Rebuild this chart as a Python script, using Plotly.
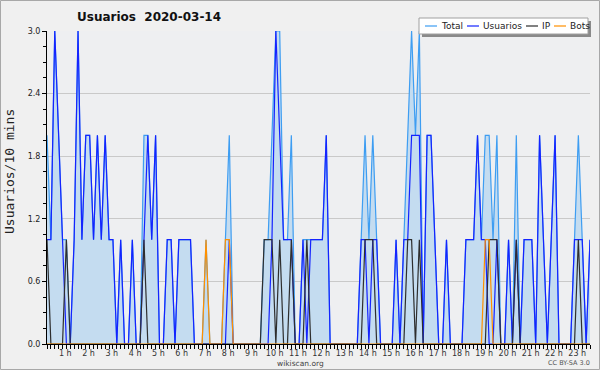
import plotly.graph_objects as go

# ---- data: users per 10-minute slot, 2020-03-14 (slot 0 = 00:00) ----
usuarios = [1, 1, 3, 2, 1, 0, 0, 1, 3, 1,
            2, 2, 1, 2, 1, 2, 1, 1, 0, 1,
            0, 0, 1, 0, 0, 1, 2, 1, 2, 0,
            0, 1, 1, 0, 1, 1, 1, 1, 0, 0,
            0, 0, 0, 0, 0, 0, 0, 1, 0, 0,
            0, 0, 0, 0, 0, 0, 0, 0, 1, 3,
            2, 1, 1, 1, 0, 0, 1, 0, 1, 1,
            1, 1, 2, 0, 0, 0, 0, 0, 0, 0,
            0, 1, 1, 0, 1, 1, 0, 0, 0, 0,
            1, 0, 1, 1, 2, 2, 2, 0, 2, 2,
            1, 0, 0, 1, 0, 0, 0, 0, 1, 1,
            1, 2, 1, 1, 0, 0, 1, 0, 0, 1,
            0, 1, 0, 1, 1, 1, 0, 2, 1, 0,
            1, 2, 0, 0, 0, 0, 1, 1, 1, 0, 1]

ip = [1, 0, 0, 0, 0, 1, 0, 0, 0, 0,
      0, 0, 0, 0, 0, 0, 0, 0, 0, 0,
      0, 0, 0, 0, 0, 1, 0, 0, 0, 0,
      0, 0, 0, 0, 0, 0, 0, 0, 0, 0,
      0, 0, 0, 0, 0, 0, 0, 0, 0, 0,
      0, 0, 0, 0, 0, 0, 1, 1, 1, 0,
      1, 0, 0, 1, 0, 0, 0, 1, 0, 0,
      0, 0, 0, 0, 0, 0, 0, 0, 0, 0,
      0, 0, 1, 1, 1, 0, 0, 0, 0, 0,
      0, 0, 0, 1, 1, 0, 1, 0, 0, 0,
      0, 0, 0, 0, 0, 0, 0, 0, 0, 0,
      0, 0, 0, 0, 1, 1, 1, 0, 0, 0,
      0, 1, 0, 0, 0, 0, 0, 0, 0, 0,
      0, 0, 0, 0, 0, 0, 0, 1, 0, 0, 0]

bots = [0, 0, 0, 0, 0, 0, 0, 0, 0, 0,
        0, 0, 0, 0, 0, 0, 0, 0, 0, 0,
        0, 0, 0, 0, 0, 0, 0, 0, 0, 0,
        0, 0, 0, 0, 0, 0, 0, 0, 0, 0,
        0, 1, 0, 0, 0, 0, 1, 1, 0, 0,
        0, 0, 0, 0, 0, 0, 0, 0, 0, 0,
        0, 0, 0, 0, 0, 0, 0, 0, 0, 0,
        0, 0, 0, 0, 0, 0, 0, 0, 0, 0,
        0, 0, 0, 0, 0, 0, 0, 0, 0, 0,
        0, 0, 0, 0, 0, 0, 0, 0, 0, 0,
        0, 0, 0, 0, 0, 0, 0, 0, 0, 0,
        0, 0, 0, 1, 1, 0, 0, 0, 0, 0,
        0, 0, 0, 0, 0, 0, 0, 0, 0, 0,
        0, 0, 0, 0, 0, 0, 0, 0, 0, 0, 0]

total = [2, 1, 3, 2, 1, 1, 0, 1, 3, 1,
         2, 2, 1, 2, 1, 2, 1, 1, 0, 1,
         0, 0, 1, 0, 0, 2, 2, 1, 2, 0,
         0, 1, 1, 0, 1, 1, 1, 1, 0, 0,
         0, 1, 0, 0, 0, 0, 1, 2, 0, 0,
         0, 0, 0, 0, 0, 0, 1, 1, 2, 3,
         3, 1, 1, 2, 0, 0, 1, 1, 1, 1,
         1, 1, 2, 0, 0, 0, 0, 0, 0, 0,
         0, 1, 2, 1, 2, 1, 0, 0, 0, 0,
         1, 0, 1, 2, 3, 2, 3, 0, 2, 2,
         1, 0, 0, 1, 0, 0, 0, 0, 1, 1,
         1, 2, 1, 2, 2, 1, 2, 0, 0, 1,
         0, 2, 0, 1, 1, 1, 0, 2, 1, 0,
         1, 2, 0, 0, 0, 0, 1, 2, 1, 0, 1]

hour_labels = ["1 h", "2 h", "3 h", "4 h", "5 h", "6 h", "7 h", "8 h", "9 h", "10 h",
               "11 h", "12 h", "13 h", "14 h", "15 h", "16 h", "17 h", "18 h", "19 h",
               "20 h", "21 h", "22 h", "23 h"]
y_ticks = [0.0, 0.6, 1.2, 1.8, 2.4, 3.0]

SLOTS_PER_HOUR = 6
slots = list(range(len(total)))
hour_ticks = [(k + 1) * SLOTS_PER_HOUR for k in range(len(hour_labels))]

# ---- figure geometry ----
W, H = 600, 370
L, R, T, B = 47, 10, 31, 26
PW, PH = W - L - R, H - T - B


def px(x):
    return (x - L) / PW


def py(y):
    return (H - B - y) / PH


C_TOTAL = "#3d9df2"
C_FILL = "#c4dcf0"
C_USR = "#1423ff"
C_IP = "#2e2e2e"
C_BOTS = "#ff9000"

fig = go.Figure()
fig.add_trace(go.Scatter(x=slots, y=total, mode="lines", name="Total",
                         line=dict(color=C_TOTAL, width=1.2),
                         fill="tozeroy", fillcolor=C_FILL, showlegend=False))
fig.add_trace(go.Scatter(x=slots, y=usuarios, mode="lines", name="Usuarios",
                         line=dict(color=C_USR, width=1.2), showlegend=False))
fig.add_trace(go.Scatter(x=slots, y=ip, mode="lines", name="IP",
                         line=dict(color=C_IP, width=1.2), showlegend=False))
fig.add_trace(go.Scatter(x=slots, y=bots, mode="lines", name="Bots",
                         line=dict(color=C_BOTS, width=1.2), showlegend=False))

fig.update_xaxes(range=[0, len(total) - 1], tickmode="array", tickvals=hour_ticks,
                 ticktext=hour_labels, ticks="outside", ticklen=4, tickcolor="#000",
                 showline=True, linecolor="#000", linewidth=1, showgrid=False,
                 zeroline=False, ticklabelshift=-5, ticklabelstandoff=-3,
                 tickfont=dict(family="DejaVu Sans", size=8, color="#333"),
                 minor=dict(tickmode="linear", tick0=0, dtick=1, ticks="outside",
                            ticklen=4, tickcolor="#000", showgrid=False))
fig.update_yaxes(range=[0, 3], tickmode="array", tickvals=y_ticks,
                 ticktext=[f"{v:.1f}" for v in y_ticks], ticks="outside", ticklen=4,
                 tickcolor="#000", showline=True, linecolor="#000", linewidth=1,
                 showgrid=True, gridcolor="#c9c9c9", gridwidth=1, zeroline=False,
                 tickfont=dict(family="DejaVu Sans", size=8, color="#222"),
                 minor=dict(tickmode="linear", tick0=0, dtick=0.15, ticks="outside",
                            ticklen=3, tickcolor="#000", showgrid=False))

shapes = [
    # outer border
    dict(type="rect", xref="paper", yref="paper", x0=px(0.5), x1=px(599.5),
         y0=py(369.5), y1=py(0.5), line=dict(color="#a8a8a8", width=1), layer="below"),
    # legend shadow + box
    dict(type="rect", xref="paper", yref="paper", x0=px(422), x1=px(591),
         y0=py(37), y1=py(21), fillcolor="#8a8a8a", line=dict(width=0)),
    dict(type="rect", xref="paper", yref="paper", x0=px(419), x1=px(588),
         y0=py(34), y1=py(18), fillcolor="#ffffff", line=dict(color="#a0a0a0", width=1)),
]
legend_items = [("Total", C_TOTAL, 425), ("Usuarios", C_USR, 467),
                ("IP", C_IP, 526), ("Bots", C_BOTS, 554)]
annotations = []
for name, col, x0 in legend_items:
    shapes.append(dict(type="line", xref="paper", yref="paper", x0=px(x0), x1=px(x0 + 12),
                       y0=py(26), y1=py(26), line=dict(color=col, width=1.2)))
    annotations.append(dict(text=name, xref="paper", yref="paper", x=px(x0 + 14), y=py(26),
                            xanchor="left", yanchor="middle", showarrow=False,
                            font=dict(family="DejaVu Sans", size=9, color="#222")))

annotations += [
    dict(text="<b>Usuarios\u00a0\u00a02020-03-14</b>", xref="paper", yref="paper",
         x=px(75), y=py(17), xanchor="left", yanchor="middle", showarrow=False,
         font=dict(family="DejaVu Sans", size=12, color="#111")),
    dict(text="Usuarios/10 mins", xref="paper", yref="paper", x=px(9), y=py(172),
         xanchor="center", yanchor="middle", textangle=-90, showarrow=False,
         font=dict(family="DejaVu Sans Mono", size=13, color="#222")),
    dict(text="wikiscan.org", xref="paper", yref="paper", x=px(300), y=py(363),
         xanchor="center", yanchor="middle", showarrow=False,
         font=dict(family="DejaVu Sans", size=7.5, color="#444")),
    dict(text="CC BY-SA 3.0", xref="paper", yref="paper", x=px(592), y=py(363),
         xanchor="right", yanchor="middle", showarrow=False,
         font=dict(family="DejaVu Sans", size=6.5, color="#555")),
]

fig.update_layout(width=W, height=H, margin=dict(l=L, r=R, t=T, b=B, autoexpand=False),
                  paper_bgcolor="#f0f0f0", plot_bgcolor="#eeeff1",
                  shapes=shapes, annotations=annotations, showlegend=False)

fig.write_html("out.html", config={"displayModeBar": False},
               post_script="document.body.style.margin='0';document.body.style.overflow='hidden';")
